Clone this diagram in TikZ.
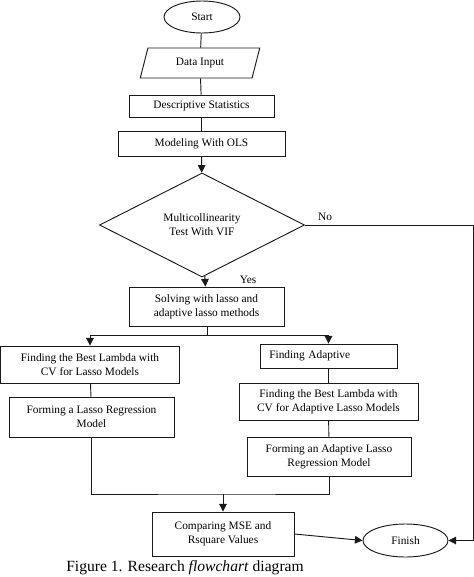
\documentclass[tikz,border=0pt]{standalone}
\usepackage{fontspec}
\setmainfont{Liberation Serif}
\usetikzlibrary{arrows.meta, positioning, shapes.geometric, calc}
\definecolor{cline}{HTML}{1A1A1A}
\newcommand{\boxfont}{\fontsize{9.7}{12}\selectfont}
\tikzset{
  every picture/.style={line width=0.8pt, x=0.03cm, y=-0.03cm},
  box/.style={draw=cline, rectangle, align=center, inner sep=2pt, font=\boxfont},
  terminal/.style={draw=cline, ellipse, inner sep=1pt, font=\boxfont},
  io/.style={draw=cline, trapezium, trapezium left angle=75, trapezium right angle=105,
    trapezium stretches=true, inner sep=2pt, font=\boxfont},
  decision/.style={draw=cline, diamond, align=center, inner sep=0pt, font=\boxfont},
  arrow/.style={-{Triangle[length=6.5pt, width=6.5pt]}, draw=cline},
  link/.style={draw=cline},
  note/.style={font=\boxfont},
}

\begin{document}
\begin{tikzpicture}
  \useasboundingbox (0,0) rectangle (474,577);
  % main column
  \node[terminal, minimum width=2.28cm, minimum height=0.96cm] (start) at (202,17) {Start};
  \node[io, minimum width=3.6cm, minimum height=0.9cm] (input) at (200,63) {Data Input};
  \node[box, minimum width=4.35cm, minimum height=0.66cm] (desc) at (201.5,106) {Descriptive Statistics};
  \node[box, minimum width=5.01cm, minimum height=0.75cm] (ols) at (201.5,143.5) {Modeling With OLS};
  \node[decision, minimum width=6.15cm, minimum height=3.12cm] (vif) at (202,225) {Multicollinearity\\Test With VIF};
  \node[box, minimum width=4.65cm, minimum height=1.17cm] (solve) at (206.5,306.5) {Solving with lasso and\\adaptive lasso methods};
  % lasso branch
  \node[box, minimum width=5.37cm, minimum height=1.11cm] (lambda) at (90,364.5) {Finding the Best Lambda with\\CV for Lasso Models};
  \node[box, minimum width=4.95cm, minimum height=1.2cm] (lasso) at (91.5,417) {Forming a Lasso Regression\\Model};
  % adaptive lasso branch
  \node[box, minimum width=4.11cm, minimum height=0.72cm, text width=3.55cm, align=left] (adapt) at (328.5,356) {Finding Adaptive};
  \node[box, minimum width=5.37cm, minimum height=1.11cm] (alambda) at (328.5,401.5) {Finding the Best Lambda with\\CV for Adaptive Lasso Models};
  \node[box, minimum width=4.92cm, minimum height=1.17cm] (alasso) at (329,456.5) {Forming an Adaptive Lasso\\Regression Model};
  % end
  \node[box, minimum width=4.26cm, minimum height=1.32cm] (compare) at (223,534) {Comparing MSE and\\Rsquare Values};
  \node[terminal, minimum width=2.55cm, minimum height=0.99cm] (finish) at (405.5,540.5) {Finish};
  \node[font=\fontsize{13.3}{15}\selectfont] (caption) at (185,568) {Figure 1. Research \textit{flowchart} diagram};

  \coordinate (split) at (207,335);
  \coordinate (join) at (223,494);
  \coordinate (edge) at (473,225);

  \draw[link] (start) -- (input);
  \draw[link] (input) -- (desc);
  \draw[link] (desc) -- (ols);
  \draw[arrow] (ols) -- (vif);
  \draw[arrow] (vif) -- (solve) node[note, pos=0.4, right=26pt] {Yes};
  \draw[link] (solve.south -| split) -- (split);
  \draw[arrow] (split) -| (lambda.north);
  \draw[arrow] (split) -| (adapt.north);
  \draw[link] (lambda) -- (lasso);
  \draw[link] (adapt) -- (alambda);
  \draw[link] (alambda) -- (alasso);
  \draw[link] (lasso.south) |- (join) -| (alasso.south);
  \draw[arrow] (join) -- (compare);
  \draw[arrow] (compare.east) -- (finish.west);
  \draw[arrow] (vif.east) -- (edge) node[note, pos=0.12, above] {No} |- (finish.east);
\end{tikzpicture}
\end{document}
